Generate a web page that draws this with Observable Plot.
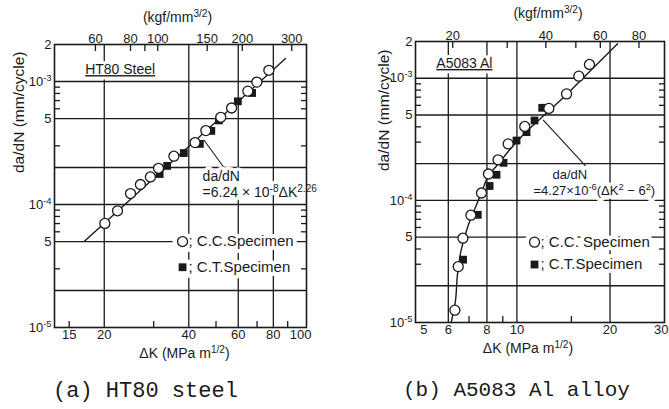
<!DOCTYPE html>
<html><head><meta charset="utf-8">
<script src="https://cdn.jsdelivr.net/npm/d3@7"></script>
<script src="https://cdn.jsdelivr.net/npm/@observablehq/plot@0.6"></script>
<style>
html,body{margin:0;padding:0;background:#fff;}
#wrap{position:relative;width:669px;height:409px;overflow:hidden;background:#fff;}
.panel{position:absolute;top:0;}
.cap{position:absolute;font-family:"Liberation Mono","DejaVu Sans Mono",monospace;color:#1a1a1a;white-space:pre;line-height:1;}
</style></head><body>
<div id="wrap">
  <div id="pa" class="panel" style="left:0"></div>
  <div id="pb" class="panel" style="left:334px"></div>
  <div id="capa" class="cap" style="left:53px;top:381px;font-size:22px"></div>
  <div id="capb" class="cap" style="left:403px;top:380px;font-size:21px"></div>
</div>
<script>
const INK = "#1a1a1a";
const FONT = "'Liberation Sans', Arial, sans-serif";
const KGF = 0.3101; // 1 kgf/mm^3/2 in MPa·m^1/2

const captions = ["(a) HT80 steel", "(b) A5083 Al alloy"];

// ---- (a) HT80 steel ----
const htCC_dK   = [77.1, 69.9, 64.9, 56.8, 52.0, 46.0, 42.1, 35.4, 31.2, 29.2, 26.9, 24.8, 22.3, 20.1];
const htCC_rate = [1.234e-3, 9.89e-4, 8.35e-4, 6.09e-4, 5.12e-4, 3.99e-4, 3.19e-4, 2.47e-4, 1.97e-4, 1.675e-4, 1.455e-4, 1.228e-4, 8.89e-5, 7.02e-5];
const htCT_dK   = [67.2, 59.8, 51.2, 48.1, 43.8, 38.4, 33.5, 31.5];
const htCT_rate = [8.07e-4, 6.90e-4, 4.83e-4, 3.97e-4, 3.11e-4, 2.62e-4, 2.06e-4, 1.77e-4];
const htFit_dK   = [17.0, 88.4];
const htFit_rate = [5.03e-5, 1.538e-3];

// ---- (b) A5083 Al ----
const alCC_dK   = [17.16, 15.85, 14.47, 12.68, 10.60, 9.37, 8.69, 8.09, 7.68, 7.10, 6.69, 6.46, 6.30];
const alCC_rate = [1.297e-3, 1.040e-3, 7.44e-4, 5.66e-4, 4.03e-4, 2.90e-4, 2.15e-4, 1.645e-4, 1.149e-4, 7.56e-5, 4.90e-5, 2.87e-5, 1.261e-5];
const alCT_dK   = [12.07, 11.40, 10.74, 9.97, 9.05, 8.59, 8.16, 7.47, 6.70];
const alCT_rate = [5.73e-4, 4.51e-4, 3.62e-4, 3.09e-4, 2.03e-4, 1.621e-4, 1.312e-4, 7.62e-5, 3.27e-5];
const alCurve_dK   = [6.13, 6.33, 6.42, 6.60, 6.94, 7.34, 7.71, 8.03, 8.78, 9.55, 10.50, 11.83, 12.94, 14.15, 16.06, 21.15];
const alCurve_rate = [1.0e-5, 1.514e-5, 2.43e-5, 3.89e-5, 6.11e-5, 8.75e-5, 1.183e-4, 1.540e-4, 2.044e-4, 2.662e-4, 3.465e-4, 4.60e-4, 5.66e-4, 6.965e-4, 9.59e-4, 1.917e-3];

// ---- shared y axis ----
const yDomain = [1e-5, 2e-3];
const yGrid = [2e-5, 5e-5, 1e-4, 2e-4, 5e-4, 1e-3];
const yLabelValues = [1e-5, 5e-5, 1e-4, 5e-4, 1e-3, 2e-3];
const yLabelTexts  = ["10^{-5}", "5", "10^{-4}", "5", "10^{-3}", "2"];
const yMinorA = [3e-5, 6e-5, 7e-5, 8e-5, 9e-5, 3e-4, 6e-4, 7e-4, 8e-4, 9e-4];
const yMinorB = [3e-5, 4e-5, 6e-5, 7e-5, 8e-5, 9e-5, 3e-4, 4e-4, 6e-4, 7e-4, 8e-4, 9e-4];

// ---- x axes ----
const htXDomain = [13.3, 105];
const htXLabels = [15, 20, 40, 60, 80, 100];
const htXGrid = [20, 40, 60, 80];
const htXMinor = [15, 30, 50, 70, 90];
const htTopLabels = [60, 80, 100, 150, 200, 300];
const htTopMinor = [60, 80, 90, 100, 150, 200, 300];

const alXDomain = [4.7, 30];
const alXLabels = [5, 6, 8, 10, 20, 30];
const alXGrid = [6, 8, 10, 20];
const alXMinor = [7, 9, 15];
const alTopLabels = [20, 40, 60, 80];
const alTopMinor = [20, 30, 40, 50, 60, 80];

// ---- annotations ----
const htTitle = ["HT80 Steel"], htTitle_dK = [17.1], htTitle_rate = [1.25e-3];
const htEq = ["da/dN", "=6.24 × 10^{-8}ΔK^{2.26}"], htEq_dK = [44.8, 44.8], htEq_rate = [1.675e-4, 1.252e-4];
const htLeader_dK = [45.2, 53.2], htLeader_rate = [3.36e-4, 2.02e-4];
const htLegend = ["; C.C.Specimen", "; C.T.Specimen"], htLegend_dK = 38, htLegend_rate = [5e-5, 3.09e-5];

const alTitle = ["A5083 Al"], alTitle_dK = [5.49], alTitle_rate = [1.321e-3];
const alEq = ["da/dN", "=4.27×10^{-6}(ΔK^{2} − 6^{2})"], alEq_dK = [13.03, 11.31], alEq_rate = [1.63e-4, 1.205e-4];
const alLeader_dK = [12.15, 16.66], alLeader_rate = [4.56e-4, 1.92e-4];
const alLegend = ["; C.C. Specimen", "; C.T.Specimen"], alLegend_dK = 11.4, alLegend_rate = [4.55e-5, 2.985e-5];

const xTitle = "ΔK (MPa m^{1/2})";
const topTitle = "(kgf/mm^{3/2})";
const yTitle = "da/dN (mm/cycle)";

const zip = (a, b) => a.map((k, i) => ({k, r: b[i]}));

// text with a white knock-out behind it (drawn as two marks so halos never cover ink)
function haloText(data, opts, sw) {
  return [
    Plot.text(data, {...opts, fill: "white", stroke: "white", strokeWidth: sw}),
    Plot.text(data, {...opts, fill: INK})
  ];
}

function panel(o) {
  const cc = zip(o.ccK, o.ccR), ct = zip(o.ctK, o.ctR), fit = zip(o.fitK, o.fitR);
  const leader = [{x1: o.leadK[0], y1: o.leadR[0], x2: o.leadK[1], y2: o.leadR[1]}];
  const title = o.title.map((t, i) => ({t, k: o.titleK[i], r: o.titleR[i]}));
  const eq = o.eq.map((t, i) => ({t, k: o.eqK[i], r: o.eqR[i]}));
  const leg = o.leg.map((t, i) => ({t, k: o.legK, r: o.legR[i]}));
  const xl = o.lastEnd ? o.xLabels.slice(0, -1) : o.xLabels;
  const xlEnd = o.lastEnd ? o.xLabels.slice(-1) : [];
  return Plot.plot({
    width: o.width, height: 365,
    marginLeft: o.ml, marginRight: o.mr, marginTop: o.mt, marginBottom: o.mb,
    style: {fontFamily: FONT, fontSize: "13px", color: INK, background: "white"},
    x: {type: "log", domain: o.xDomain},
    y: {type: "log", domain: yDomain},
    marks: [
      Plot.gridX(o.xGrid, {stroke: INK, strokeOpacity: 1, strokeWidth: 1.3}),
      Plot.gridY(yGrid, {stroke: INK, strokeOpacity: 1, strokeWidth: 1.3}),
      Plot.link(leader, {x1: "x1", y1: "y1", x2: "x2", y2: "y2", stroke: INK, strokeWidth: 1.1}),
      Plot.line(fit, {x: "k", y: "r", stroke: INK, strokeWidth: 1.4, curve: o.curve, clip: true}),
      Plot.dot(ct, {x: "k", y: "r", symbol: "square", r: 4.4, fill: INK, stroke: "none"}),
      Plot.dot(cc, {x: "k", y: "r", r: 5, fill: "white", stroke: INK, strokeWidth: 1.3}),
      ...haloText(title, {x: "k", y: "r", text: "t", textAnchor: "start", fontSize: 14}, 6),
      ...haloText(eq, {x: "k", y: "r", text: "t", textAnchor: "start", fontSize: o.eqFs}, 7),
      Plot.dot(leg, {x: "k", y: "r", r: 10, fill: "white", stroke: "none"}),
      ...haloText(leg, {x: "k", y: "r", text: "t", textAnchor: "start", dx: 6, fontSize: 15}, 8),
      Plot.dot(leg.slice(0, 1), {x: "k", y: "r", r: 5, fill: "white", stroke: INK, strokeWidth: 1.3}),
      Plot.dot(leg.slice(1), {x: "k", y: "r", symbol: "square", r: 4.4, fill: INK, stroke: "none"}),
      // inward ticks
      Plot.axisX(o.xMinor, {anchor: "bottom", tickSize: 6, dy: -6, tickFormat: () => "", label: null, strokeWidth: 1.3}),
      Plot.axisX(o.topMinor.map(k => k * KGF), {anchor: "top", tickSize: 6, dy: 6, tickFormat: () => "", label: null, strokeWidth: 1.3}),
      Plot.axisY(o.yMinor, {anchor: "left", tickSize: 6, dx: 6, tickFormat: () => "", label: null, strokeWidth: 1.3}),
      Plot.axisY(o.yMinor, {anchor: "right", tickSize: 6, dx: -6, tickFormat: () => "", label: null, strokeWidth: 1.3}),
      // tick labels
      Plot.text(xl, {x: d => d, text: d => String(d), frameAnchor: "bottom", lineAnchor: "top", dy: 2, fontSize: 13, fill: INK}),
      Plot.text(xlEnd, {x: d => d, text: d => String(d), frameAnchor: "bottom", lineAnchor: "top", textAnchor: "end", dx: 4, dy: 2, fontSize: 13, fill: INK}),
      Plot.text(o.topLabels, {x: k => k * KGF, text: k => String(k), frameAnchor: "top", lineAnchor: "bottom", dy: -2, fontSize: 13, fill: INK}),
      Plot.text(yLabelValues, {y: d => d, text: (d, i) => yLabelTexts[i], frameAnchor: "left", textAnchor: "end", lineAnchor: "middle", dx: -3, fontSize: 13, fill: INK}),
      // axis titles
      Plot.text([xTitle], {text: d => d, frameAnchor: "bottom", lineAnchor: "middle", dx: o.xtDx, dy: 26, fontSize: 14, fill: INK}),
      Plot.text([topTitle], {text: d => d, frameAnchor: "top", lineAnchor: "middle", dx: o.ttDx, dy: o.ttDy, fontSize: 14, fill: INK}),
      Plot.text([yTitle], {text: d => d, frameAnchor: "left", lineAnchor: "middle", rotate: -90, dx: o.ytDx, dy: o.ytDy, fontSize: 15.5, fill: INK}),
      Plot.frame({stroke: INK, strokeWidth: 1.6})
    ]
  });
}

function supify(svg) {
  const ns = "http://www.w3.org/2000/svg";
  svg.querySelectorAll("text, tspan").forEach(el => {
    if (el.children.length) return;
    const s = el.textContent;
    if (!s.includes("^{")) return;
    const fs = parseFloat(getComputedStyle(el).fontSize) || 13;
    const shift = fs * 0.38;
    const parts = s.split(/\^\{([^}]*)\}/);
    el.textContent = "";
    let cur = 0;
    parts.forEach((p, i) => {
      if (!p) return;
      const t = document.createElementNS(ns, "tspan");
      const target = i % 2 === 1 ? -shift : 0;
      if (target !== cur) { t.setAttribute("dy", target - cur); cur = target; }
      if (i % 2 === 1) t.setAttribute("font-size", (fs * 0.72).toFixed(2));
      t.textContent = p;
      el.appendChild(t);
    });
  });
}
function underline(svg, names) {
  svg.querySelectorAll("text").forEach(el => {
    if (names.includes(el.textContent)) el.style.textDecoration = "underline";
  });
}

const a = panel({
  width: 334, ml: 54, mr: 28, mt: 44, mb: 38,
  xDomain: htXDomain, xGrid: htXGrid, xMinor: htXMinor, xLabels: htXLabels, lastEnd: false,
  topLabels: htTopLabels, topMinor: htTopMinor, yMinor: yMinorA,
  ccK: htCC_dK, ccR: htCC_rate, ctK: htCT_dK, ctR: htCT_rate, fitK: htFit_dK, fitR: htFit_rate, curve: "linear",
  leadK: htLeader_dK, leadR: htLeader_rate,
  title: htTitle, titleK: htTitle_dK, titleR: htTitle_rate,
  eq: htEq, eqK: htEq_dK, eqR: htEq_rate, eqFs: 14,
  leg: htLegend, legK: htLegend_dK, legR: htLegend_rate,
  xtDx: 4, ttDx: -3, ttDy: -27, ytDx: -35, ytDy: -13
});
const b = panel({
  width: 335, ml: 81, mr: 5, mt: 41, mb: 43,
  xDomain: alXDomain, xGrid: alXGrid, xMinor: alXMinor, xLabels: alXLabels, lastEnd: true,
  topLabels: alTopLabels, topMinor: alTopMinor, yMinor: yMinorB,
  ccK: alCC_dK, ccR: alCC_rate, ctK: alCT_dK, ctR: alCT_rate, fitK: alCurve_dK, fitR: alCurve_rate, curve: "catmull-rom",
  leadK: alLeader_dK, leadR: alLeader_rate,
  title: alTitle, titleK: alTitle_dK, titleR: alTitle_rate,
  eq: alEq, eqK: alEq_dK, eqR: alEq_rate, eqFs: 13,
  leg: alLegend, legK: alLegend_dK, legR: alLegend_rate,
  xtDx: -12, ttDx: 8, ttDy: -28, ytDx: -31, ytDy: -11
});
document.getElementById("pa").appendChild(a);
document.getElementById("pb").appendChild(b);
[a, b].forEach(s => { supify(s); underline(s, ["HT80 Steel", "A5083 Al"]); });
document.getElementById("capa").textContent = captions[0];
document.getElementById("capb").textContent = captions[1];
</script>
</body></html>
